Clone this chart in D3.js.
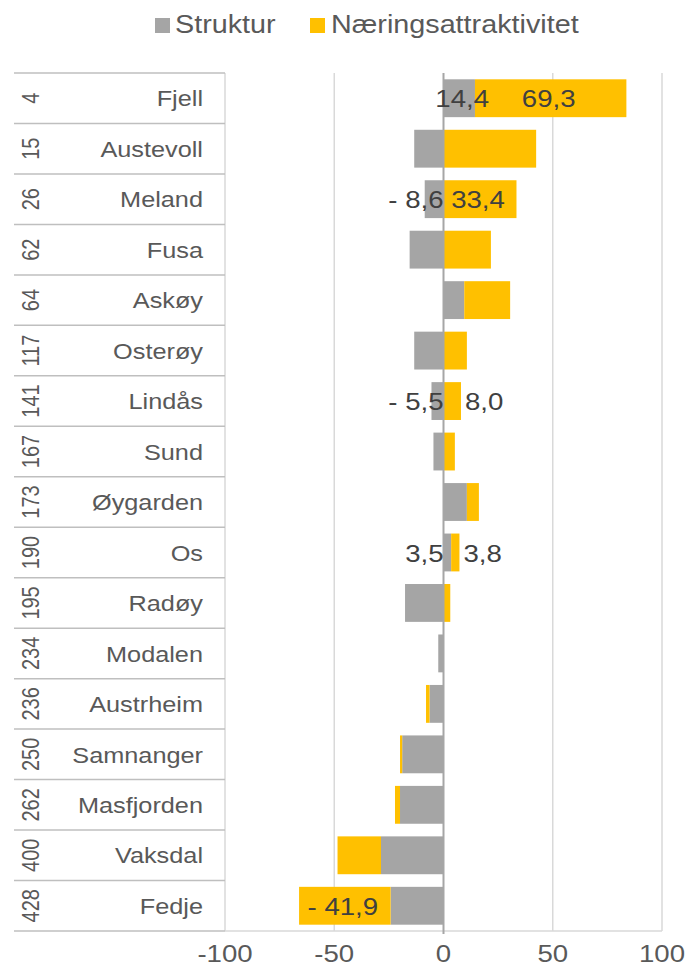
<!DOCTYPE html>
<html>
<head>
<meta charset="utf-8">
<script src="https://cdn.jsdelivr.net/npm/d3@7"></script>
<style>
  html, body { margin: 0; padding: 0; background: #fff; }
  svg { display: block; font-family: "Liberation Sans", Arial, sans-serif; }
</style>
</head>
<body>
<svg id="chart" width="685" height="968"></svg>
<script>
const categories = ["Fjell","Austevoll","Meland","Fusa","Askøy","Osterøy","Lindås","Sund","Øygarden","Os","Radøy","Modalen","Austrheim","Samnanger","Masfjorden","Vaksdal","Fedje"];
const ranks = [4,15,26,62,64,117,141,167,173,190,195,234,236,250,262,400,428];
const struktur = [14.4,-13.4,-8.6,-15.5,9.5,-13.4,-5.5,-4.6,10.7,3.5,-17.6,-2.4,-6.4,-18.9,-19.9,-28.6,-24.2];
const naering = [69.3,42.4,33.4,21.7,21.0,10.7,8.0,5.2,5.5,3.8,3.1,0,-1.6,-1.0,-2.3,-19.9,-41.9];
const labelStruktur = ["Fjell","Meland","Lindås","Os"];
const labelNaering = ["Fjell","Meland","Lindås","Os","Fedje"];
const seriesNames = ["Struktur","Næringsattraktivitet"];
const xTicks = [-100,-50,0,50,100];

const COLORS = { Struktur: "#a5a5a5", "Næringsattraktivitet": "#ffc000" };
const SX = 1.15; // horizontal text stretch of the reference rendering
const svg = d3.select("#chart");

const plot = { left: 225, right: 662, top: 73, bottom: 931 };
const tableLeft = 14;

const x = d3.scaleLinear().domain([-100, 100]).range([plot.left, plot.right]);
const y = d3.scaleBand().domain(categories).range([plot.top, plot.bottom]).paddingInner(0).paddingOuter(0);
const barPad = 0.25;

function sText(g, tx, ty, extra) {
  return g.append("text").attr("transform", `translate(${tx},${ty}) scale(${SX},1)` + (extra || ""));
}

const rows = categories.map((c, i) => ({ cat: c, Struktur: struktur[i], "Næringsattraktivitet": naering[i], rank: ranks[i] }));
const stack = d3.stack().keys(seriesNames).offset(d3.stackOffsetDiverging);
const stacked = stack(rows);

// gridlines
const grid = svg.append("g");
grid.selectAll("line").data(xTicks.filter(t => t !== 0)).join("line")
  .attr("x1", d => x(d)).attr("x2", d => x(d))
  .attr("y1", plot.top).attr("y2", plot.bottom)
  .attr("stroke", "#d9d9d9").attr("stroke-width", 1.5);

// category table lines
const table = svg.append("g");
const bounds = categories.map(c => y(c)).concat([plot.bottom]);
table.selectAll("line.sep").data(bounds).join("line")
  .attr("class", "sep")
  .attr("x1", tableLeft).attr("x2", plot.left)
  .attr("y1", d => d).attr("y2", d => d)
  .attr("stroke", "#bfbfbf").attr("stroke-width", 1.5);

// bottom axis line
svg.append("line").attr("x1", plot.left).attr("x2", plot.right)
  .attr("y1", plot.bottom).attr("y2", plot.bottom)
  .attr("stroke", "#d9d9d9").attr("stroke-width", 1.5);

// bars
const bh = y.bandwidth() * (1 - barPad);
const boff = (y.bandwidth() - bh) / 2;
const barsG = svg.append("g");
stacked.forEach(layer => {
  barsG.append("g").attr("fill", COLORS[layer.key])
    .selectAll("rect").data(layer).join("rect")
    .attr("x", d => x(Math.min(d[0], d[1])))
    .attr("width", d => Math.abs(x(d[1]) - x(d[0])))
    .attr("y", d => y(d.data.cat) + boff)
    .attr("height", bh);
});

// zero axis line
svg.append("line").attr("x1", x(0)).attr("x2", x(0))
  .attr("y1", plot.top).attr("y2", plot.bottom + 3)
  .attr("stroke", "#a6a6a6").attr("stroke-width", 2);

// category labels
const catG = svg.append("g").attr("fill", "#595959").attr("font-size", 22);
categories.forEach((c, i) => {
  sText(catG, 203, y(c) + y.bandwidth() / 2)
    .attr("text-anchor", "end").attr("dy", "0.37em").text(c);
  sText(catG, 31, y(c) + y.bandwidth() / 2, " rotate(-90)")
    .attr("text-anchor", "middle").attr("dy", "0.36em").attr("font-size", 20).text(ranks[i]);
});

// x tick labels
const tickG = svg.append("g").attr("fill", "#595959").attr("font-size", 24);
xTicks.forEach(t => {
  sText(tickG, x(t), 962).attr("text-anchor", "middle").text(t);
});

// data labels
const fmt = v => (v < 0 ? "- " : "") + d3.format(".1f")(Math.abs(v)).replace(".", ",");
const lblG = svg.append("g").attr("fill", "#404040").attr("font-size", 24);
stacked.forEach(layer => {
  const want = layer.key === "Struktur" ? labelStruktur : labelNaering;
  layer.forEach(d => {
    if (!want.includes(d.data.cat)) return;
    const v = d.data[layer.key];
    const txt = fmt(v);
    const x0 = x(Math.min(d[0], d[1])), x1 = x(Math.max(d[0], d[1]));
    const w = x1 - x0;
    const cy = y(d.data.cat) + y.bandwidth() / 2;
    const t = sText(lblG, 0, cy).attr("dy", "0.38em").text(txt);
    const tw = t.node().getComputedTextLength() * SX;
    let px, anchor;
    if (layer.key === "Struktur") {
      if (w > 25) { px = (x0 + x1) / 2 + 3; anchor = "middle"; }
      else { px = x(0); anchor = "end"; }
    } else {
      if (w >= tw) { px = (x0 + x1) / 2 - 2; anchor = "middle"; }
      else { px = x1 + 4; anchor = "start"; }
    }
    t.attr("transform", `translate(${px},${cy}) scale(${SX},1)`).attr("text-anchor", anchor);
  });
});

// legend
const leg = svg.append("g").attr("font-size", 25).attr("fill", "#595959");
const legItems = [
  { key: "Struktur", sx: 155, tx: 175 },
  { key: "Næringsattraktivitet", sx: 310, tx: 331 }
];
legItems.forEach(it => {
  leg.append("rect").attr("x", it.sx).attr("y", 18).attr("width", 15).attr("height", 15).attr("fill", COLORS[it.key]);
  sText(leg, it.tx, 33).attr("text-anchor", "start").text(it.key);
});
</script>
</body>
</html>
